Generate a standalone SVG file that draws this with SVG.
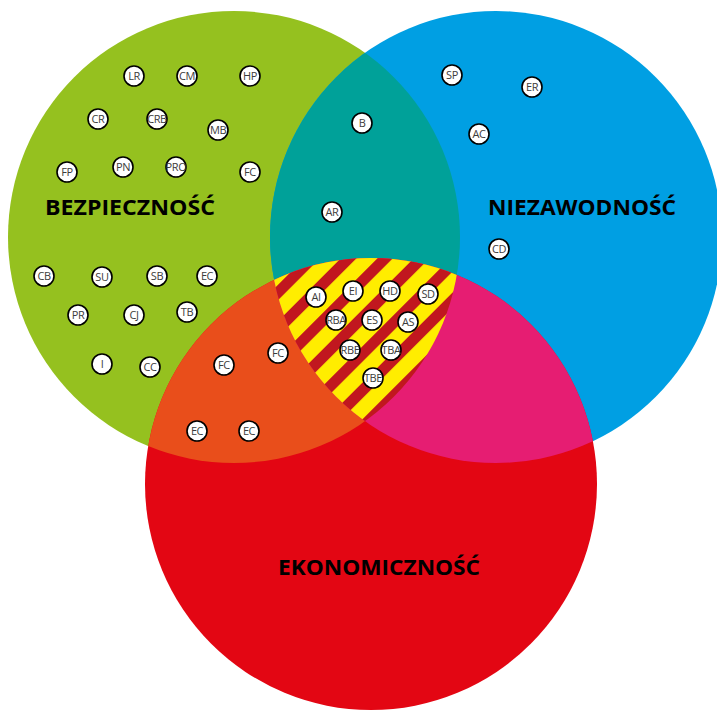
<svg xmlns="http://www.w3.org/2000/svg" width="717" height="711" viewBox="0 0 717 711">
<style>
.n circle{fill:#fff;stroke:#000;stroke-width:1.6}
.n text{font-family:"Open Sans","Liberation Sans",sans-serif;font-size:11px;fill:#3c3c3b;text-anchor:middle;letter-spacing:-0.4px}
.lbl{font-family:"Open Sans","Liberation Sans",sans-serif;font-weight:bold;font-size:22px;fill:#000}
</style>
<defs>
<clipPath id="cg"><circle cx="234" cy="237" r="226"/></clipPath>
<clipPath id="cb"><circle cx="496" cy="237" r="226"/></clipPath>
<pattern id="stripes" patternUnits="userSpaceOnUse" width="25.8" height="25.8" patternTransform="rotate(45)">
<rect width="25.8" height="25.8" fill="#ffed00"/>
<rect x="10.9" width="11" height="25.8" fill="#c1171f"/>
</pattern>
</defs>
<g id="circles">
<circle id="green" cx="234" cy="237" r="226" fill="#95c11f"/>
<circle id="blue" cx="496" cy="237" r="226" fill="#009fe3"/>
<circle id="red" cx="371" cy="484" r="226" fill="#e30613"/>
<circle id="teal" cx="496" cy="237" r="226" fill="#00a199" clip-path="url(#cg)"/>
<circle id="orange" cx="371" cy="484" r="226" fill="#e94e1b" clip-path="url(#cg)"/>
<circle id="magenta" cx="371" cy="484" r="226" fill="#e61d72" clip-path="url(#cb)"/>
<g clip-path="url(#cg)"><circle id="center" cx="371" cy="484" r="226" fill="url(#stripes)" clip-path="url(#cb)"/></g>
</g>
<g id="labels">
<text class="lbl" x="45" y="215" textLength="170" lengthAdjust="spacingAndGlyphs">BEZPIECZNOŚĆ</text>
<text class="lbl" x="488" y="215" textLength="188" lengthAdjust="spacingAndGlyphs">NIEZAWODNOŚĆ</text>
<text class="lbl" x="278" y="575" textLength="202" lengthAdjust="spacingAndGlyphs">EKONOMICZNOŚĆ</text>
</g>
<g id="nodes">
<g id="n-LR" class="n"><circle cx="134" cy="76" r="10"/><text x="134" y="80">LR</text></g>
<g id="n-CM" class="n"><circle cx="187" cy="76" r="10"/><text x="187" y="80">CM</text></g>
<g id="n-HP" class="n"><circle cx="250" cy="76" r="10"/><text x="250" y="80">HP</text></g>
<g id="n-CR" class="n"><circle cx="98" cy="119" r="10"/><text x="98" y="123">CR</text></g>
<g id="n-CRB" class="n"><circle cx="157" cy="119" r="10"/><text x="157" y="123">CRB</text></g>
<g id="n-MB" class="n"><circle cx="218" cy="130" r="10"/><text x="218" y="134">MB</text></g>
<g id="n-FP" class="n"><circle cx="67" cy="172" r="10"/><text x="67" y="176">FP</text></g>
<g id="n-PN" class="n"><circle cx="123" cy="167" r="10"/><text x="123" y="171">PN</text></g>
<g id="n-PRO" class="n"><circle cx="176" cy="167" r="10"/><text x="176" y="171">PRO</text></g>
<g id="n-FC1" class="n"><circle cx="250" cy="172" r="10"/><text x="250" y="176">FC</text></g>
<g id="n-B" class="n"><circle cx="362" cy="123" r="10"/><text x="362" y="127">B</text></g>
<g id="n-AR" class="n"><circle cx="332" cy="212" r="10"/><text x="332" y="216">AR</text></g>
<g id="n-SP" class="n"><circle cx="452" cy="75" r="10"/><text x="452" y="79">SP</text></g>
<g id="n-ER" class="n"><circle cx="532" cy="87" r="10"/><text x="532" y="91">ER</text></g>
<g id="n-AC" class="n"><circle cx="479" cy="134" r="10"/><text x="479" y="138">AC</text></g>
<g id="n-CD" class="n"><circle cx="499" cy="249" r="10"/><text x="499" y="253">CD</text></g>
<g id="n-CB" class="n"><circle cx="44" cy="276" r="10"/><text x="44" y="280">CB</text></g>
<g id="n-SU" class="n"><circle cx="102" cy="277" r="10"/><text x="102" y="281">SU</text></g>
<g id="n-SB" class="n"><circle cx="157" cy="276" r="10"/><text x="157" y="280">SB</text></g>
<g id="n-EC1" class="n"><circle cx="207" cy="276" r="10"/><text x="207" y="280">EC</text></g>
<g id="n-PR" class="n"><circle cx="78" cy="315" r="10"/><text x="78" y="319">PR</text></g>
<g id="n-CJ" class="n"><circle cx="134" cy="315" r="10"/><text x="134" y="319">CJ</text></g>
<g id="n-TB" class="n"><circle cx="187" cy="312" r="10"/><text x="187" y="316">TB</text></g>
<g id="n-I" class="n"><circle cx="102" cy="364" r="10"/><text x="102" y="368">I</text></g>
<g id="n-CC" class="n"><circle cx="150" cy="367" r="10"/><text x="150" y="371">CC</text></g>
<g id="n-FC2" class="n"><circle cx="224" cy="365" r="10"/><text x="224" y="369">FC</text></g>
<g id="n-FC3" class="n"><circle cx="278" cy="353" r="10"/><text x="278" y="357">FC</text></g>
<g id="n-EC2" class="n"><circle cx="197" cy="431" r="10"/><text x="197" y="435">EC</text></g>
<g id="n-EC3" class="n"><circle cx="249" cy="431" r="10"/><text x="249" y="435">EC</text></g>
<g id="n-AI" class="n"><circle cx="316" cy="297" r="10"/><text x="316" y="301">AI</text></g>
<g id="n-EI" class="n"><circle cx="353" cy="291" r="10"/><text x="353" y="295">EI</text></g>
<g id="n-HD" class="n"><circle cx="390" cy="291" r="10"/><text x="390" y="295">HD</text></g>
<g id="n-SD" class="n"><circle cx="428" cy="294" r="10"/><text x="428" y="298">SD</text></g>
<g id="n-RBA" class="n"><circle cx="336" cy="320" r="10"/><text x="336" y="324">RBA</text></g>
<g id="n-ES" class="n"><circle cx="372" cy="320" r="10"/><text x="372" y="324">ES</text></g>
<g id="n-AS" class="n"><circle cx="408" cy="322" r="10"/><text x="408" y="326">AS</text></g>
<g id="n-RBE" class="n"><circle cx="350" cy="350" r="10"/><text x="350" y="354">RBE</text></g>
<g id="n-TBA" class="n"><circle cx="391" cy="350" r="10"/><text x="391" y="354">TBA</text></g>
<g id="n-TBE" class="n"><circle cx="373" cy="378" r="10"/><text x="373" y="382">TBE</text></g>
</g>
<g id="connectors"/>
</svg>
